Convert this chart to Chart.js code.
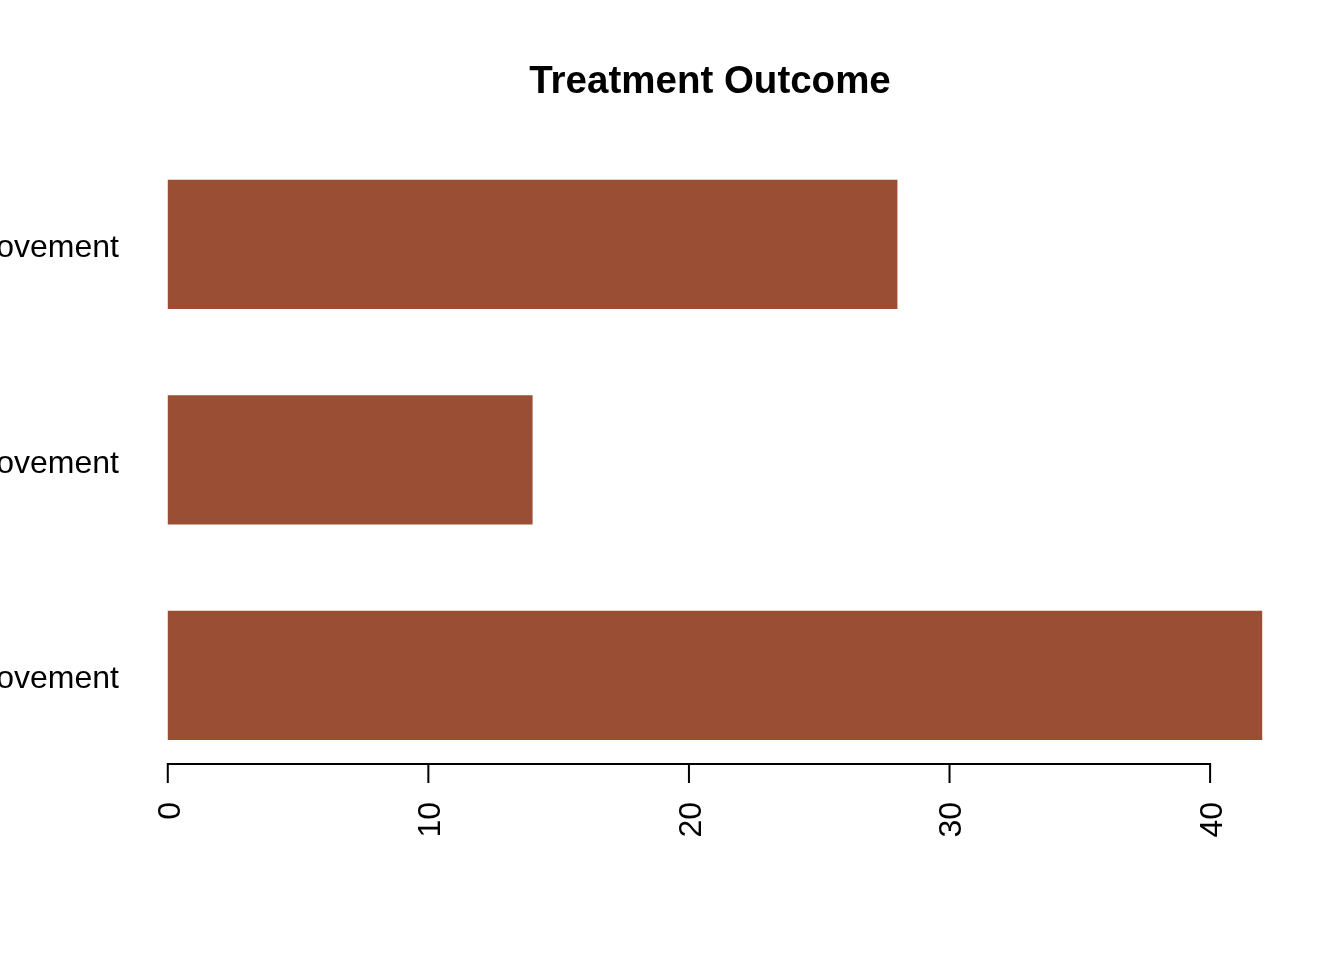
<!DOCTYPE html>
<html>
<head>
<meta charset="utf-8">
<script src="https://cdn.jsdelivr.net/npm/chart.js@4/dist/chart.umd.min.js"></script>
<style>
  html, body { margin: 0; padding: 0; background: #ffffff; }
  #wrap { width: 1344px; height: 960px; position: relative; }
</style>
</head>
<body>
<div id="wrap"><canvas id="c" width="1344" height="960"></canvas></div>
<script>
// Data (top to bottom as displayed)
const categories = ["Marked Improvement", "Some Improvement", "No Improvement"];
const counts = [28, 14, 42];
const xTicks = [0, 10, 20, 30, 40];
const chartTitle = "Treatment Outcome";

const FONT = "'Liberation Sans', Arial, Helvetica, sans-serif";

const xAxisPlugin = {
  id: 'rXAxis',
  afterDraw(chart) {
    const ctx = chart.ctx;
    const xs = chart.scales.x;
    const area = chart.chartArea;
    const yAxisLine = 764;
    const tickEnd = 783;
    ctx.save();
    // title, centred over the plot region
    ctx.fillStyle = '#000000';
    ctx.font = "bold 38.5px " + FONT;
    ctx.textAlign = 'center';
    ctx.textBaseline = 'alphabetic';
    ctx.fillText(chartTitle, (area.left + area.right) / 2 - 5, 93);

    ctx.strokeStyle = '#000000';
    ctx.lineWidth = 2;
    ctx.lineCap = 'butt';
    ctx.beginPath();
    const x0 = xs.getPixelForValue(xTicks[0]);
    const x1 = xs.getPixelForValue(xTicks[xTicks.length - 1]);
    ctx.moveTo(x0 - 1, yAxisLine);
    ctx.lineTo(x1 + 1, yAxisLine);
    xTicks.forEach(v => {
      const px = xs.getPixelForValue(v);
      ctx.moveTo(px, yAxisLine);
      ctx.lineTo(px, tickEnd);
    });
    ctx.stroke();
    ctx.font = "32px " + FONT;
    ctx.textAlign = 'right';
    ctx.textBaseline = 'middle';
    xTicks.forEach(v => {
      const px = xs.getPixelForValue(v);
      ctx.save();
      ctx.translate(px + 3, 802);
      ctx.rotate(-Math.PI / 2);
      ctx.fillText(String(v), 0, 0);
      ctx.restore();
    });
    ctx.restore();
  }
};

new Chart(document.getElementById('c'), {
  type: 'bar',
  data: {
    labels: categories,
    datasets: [{
      data: counts,
      backgroundColor: '#9A4F35',
      borderWidth: 0,
      barPercentage: 0.6,
      categoryPercentage: 1.0
    }]
  },
  options: {
    indexAxis: 'y',
    responsive: false,
    animation: false,
    devicePixelRatio: 1,
    layout: { padding: { left: 0, right: 38, top: 136.75, bottom: 177 } },
    plugins: {
      legend: { display: false },
      tooltip: { enabled: false },
      title: { display: false }
    },
    scales: {
      x: {
        display: false,
        type: 'linear',
        min: -1.68,
        max: 43.68
      },
      y: {
        type: 'category',
        offset: true,
        grid: { display: false },
        border: { display: false },
        ticks: {
          color: '#000000',
          padding: -3,
          labelOffset: 4,
          font: { family: FONT, size: 32 }
        },
        afterFit(scale) { scale.width = 124; }
      }
    }
  },
  plugins: [xAxisPlugin]
});
</script>
</body>
</html>
